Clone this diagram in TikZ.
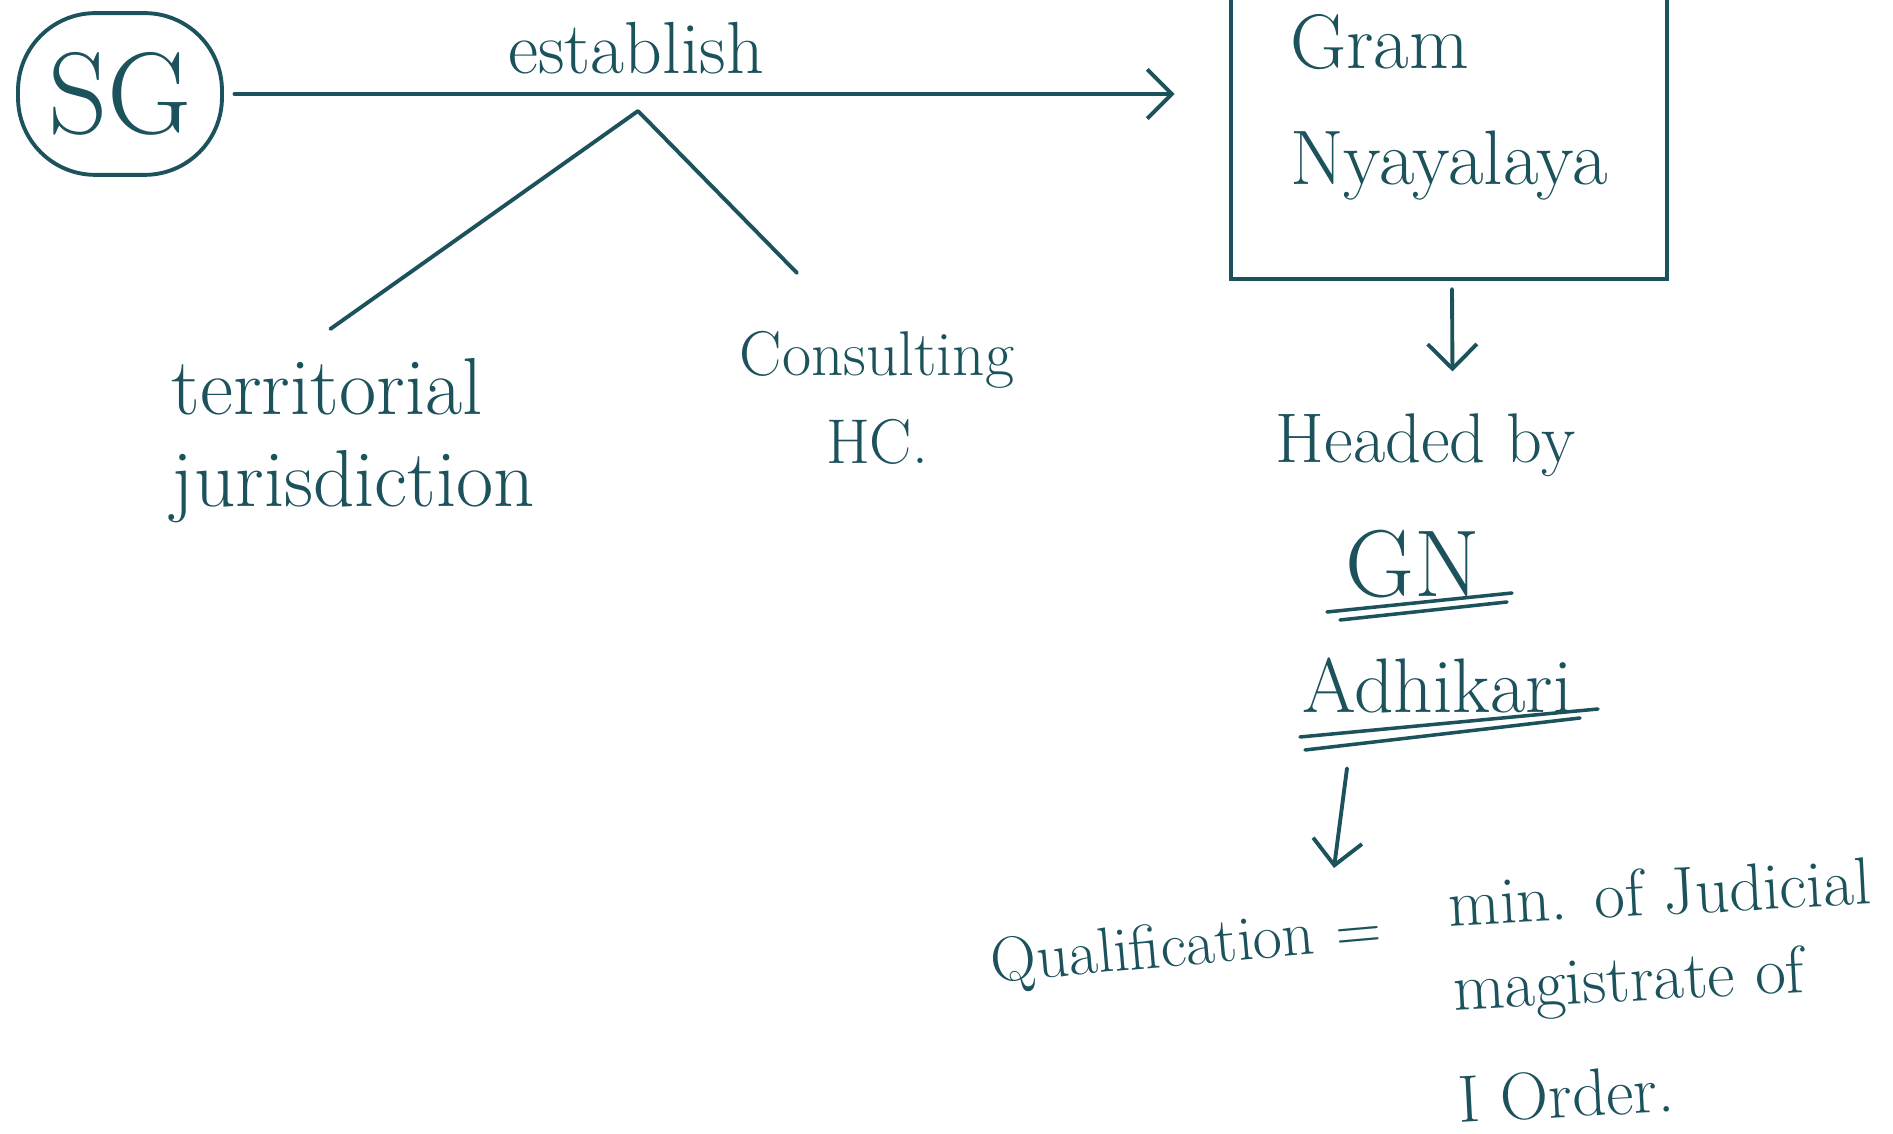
\documentclass[tikz,border=0pt]{standalone}
\usepackage{xcolor}
\usepackage{tikz}
\usetikzlibrary{positioning,arrows.meta,calc}
\definecolor{inkteal}{RGB}{28,82,92}
\tikzset{
  hand/.style ={text=inkteal,align=left,inner sep=2pt},
  frame/.style={draw=inkteal,line width=1.1pt},
  ink/.style  ={draw=inkteal,line width=1.1pt,line cap=round,line join=round},
  ar/.style   ={ink,-{Straight Barb[length=7pt,width=14pt,line width=1.1pt]}},
  uline/.style={draw=inkteal,line width=1pt,line cap=round},
}

\begin{document}
\begin{tikzpicture}[x=0.01cm,y=-0.01cm]
\fill[white] (0,0) rectangle (1893,1134);
\useasboundingbox (0,0) rectangle (1893,1134);

\node[hand,frame,rounded corners=22pt,minimum width=58pt,minimum height=46pt,font=\fontsize{33}{36}\selectfont] (sg) at (120,94) {SG};
\node[hand,frame,minimum width=124pt,minimum height=97.6pt,font=\fontsize{22}{33}\selectfont] (court) at (1449,107.5) {Gram\\Nyayalaya};
\draw[ar,shorten <=3pt,shorten >=15.5pt] (sg.east) -- (sg.east -| court.west)
  node[hand,pos=0.41,above=3pt,font=\fontsize{21}{24}\selectfont] (est) {establish};

\coordinate (fork) at (638,111);
\node[hand,anchor=north west,font=\fontsize{23}{26}\selectfont] (terr) at (164,351) {territorial\\jurisdiction};
\node[hand,anchor=north,align=center,font=\fontsize{18}{25}\selectfont] (cons) at (877,324) {Consulting\\HC.};
\draw[ink] ([shift={(-23,-22)}]terr.north) -- (fork) -- ([shift={(-80,-51)}]cons.north);

\node[hand,anchor=base west,font=\fontsize{20}{24}\selectfont] (head) at (1268,463) {Headed by};
\draw[ar] ([shift={(3,8)}]court.south) -- ([shift={(27,-35)}]head.north);

\node[hand,anchor=base west,font=\fontsize{27}{30}\selectfont] (gn) at (1338,597) {GN};
\draw[uline] ([shift={(-11,15)}]gn.base west) -- ([shift={(174,-4)}]gn.base west);
\draw[uline] ([shift={(2,23)}]gn.base west) -- ([shift={(169,5)}]gn.base west);

\node[hand,anchor=base west,font=\fontsize{22}{24}\selectfont] (adh) at (1295,713) {Adhikari};
\draw[uline] ([shift={(5,24)}]adh.base west) -- ([shift={(303,-4)}]adh.base west);
\draw[uline] ([shift={(10,37)}]adh.base west) -- ([shift={(285,5)}]adh.base west);

\node[hand,anchor=base west,rotate=5,font=\fontsize{18}{22}\selectfont] (qual) at (985,983) {Qualification\hspace{6pt}=};
\draw[ar] ([shift={(52,47)}]adh.south west) -- ([shift={(349,-115)}]qual.base west);
\node[hand,anchor=north west,rotate=3,font=\fontsize{19}{24}\selectfont] (judic) at (1439,872) {min. of Judicial\\magistrate of\\[8pt]I Order.};
\end{tikzpicture}
\end{document}
